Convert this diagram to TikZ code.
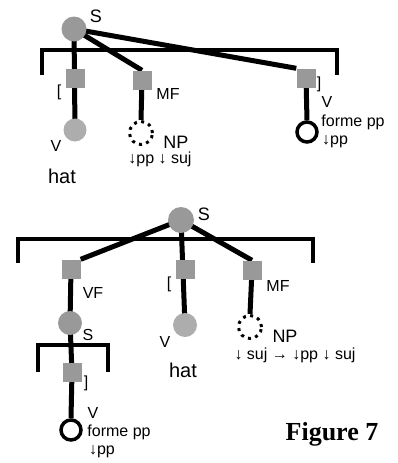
\documentclass[tikz,border=0pt]{standalone}
\usepackage{fontspec}
\setmainfont{Liberation Sans}
\newfontfamily\figfont{Liberation Serif}
\usetikzlibrary{backgrounds}
\definecolor{nodegray}{gray}{0.6}
\definecolor{vgray}{gray}{0.68}

\begin{document}
\begin{tikzpicture}[x=1pt,y=-1pt,
  sq/.style={fill=nodegray,minimum size=19pt,inner sep=0pt},
  snode/.style={circle,fill=nodegray,minimum size=25pt,inner sep=0pt},
  vnode/.style={circle,fill=vgray,minimum size=23pt,inner sep=0pt},
  foot/.style={circle,draw,fill=white,line width=3.5pt,minimum size=20pt,inner sep=0pt},
  subst/.style={circle,draw,line width=3pt,dash pattern=on 3pt off 4.4pt,minimum size=23pt,inner sep=0pt},
  edge/.style={line width=5pt},
  brack/.style={line width=3.5pt},
  lbl/.style={font=\fontsize{16}{18}\selectfont,inner sep=0pt,anchor=base},
  big/.style={font=\fontsize{18}{20}\selectfont,inner sep=0pt,anchor=base}]
\useasboundingbox (0,0) rectangle (398,463);

% upper tree
\node[snode] (s1) at (74,29) {};
\node[sq] (lsq1) at (75,78) {};
\node[vnode] (v1) at (75,130) {};
\node[sq] (mf1) at (142,80) {};
\node[subst] (np1) at (141,133) {};
\node[sq] (rsq1) at (306,78) {};
\node[foot] (foot1) at (307,132) {};
\begin{scope}[on background layer]
\draw[brack] (42,75) -- (42,50) -- (337,50) -- (337,75);
\draw[edge] (s1.center) -- (v1.center);
\draw[edge] (s1.center) -- (mf1.north);
\draw[edge] (mf1.center) -- (np1.north);
\draw[edge] (s1.center) -- (rsq1.north west);
\draw[edge] (rsq1.center) -- (foot1.north);
\end{scope}
\node[big] (s1lab) at (96,23) {S};
\node[lbl,anchor=center] (open1) at (59,92) {[};
\node[lbl] (mf1lab) at (168,99) {MF};
\node[lbl] (v1lab) at (56,151) {V};
\node[lbl,font=\fontsize{20}{22}\selectfont] (hat1) at (62,183) {hat};
\node[big] (np1lab) at (176,148) {NP};
\node[lbl] (np1feat) at (160,163) {↓pp ↓ suj};
\node[lbl,anchor=center] (close1) at (319,84) {]};
\node[lbl] (foot1cat) at (327,107) {V};
\node[lbl] (foot1forme) at (353,126) {forme pp};
\node[lbl] (foot1pp) at (335,144) {↓pp};

% lower tree
\node[snode,minimum size=26pt] (s2) at (181,220) {};
\node[sq] (vf) at (71,269) {};
\node[sq] (lsq2) at (185,269) {};
\node[sq] (mf2) at (252,270) {};
\node[snode,minimum size=24pt] (s3) at (70,323) {};
\node[sq] (rsq2) at (72,372) {};
\node[foot] (foot2) at (71,430) {};
\node[vnode,minimum size=24pt] (v2) at (185,325) {};
\node[subst] (np2) at (250,327) {};
\begin{scope}[on background layer]
\draw[brack] (18,263) -- (18,239) -- (313,239) -- (313,263);
\draw[brack] (38,372) -- (38,345) -- (108,345) -- (108,372);
\draw[edge] (s2.center) -- (vf.north east);
\draw[edge] (s2.center) -- (v2.center);
\draw[edge] (s2.center) -- (mf2.north);
\draw[edge] (mf2.center) -- (np2.north);
\draw[edge] (vf.center) -- (s3.center) -- (rsq2.center) -- (foot2.north);
\end{scope}
\node[big] (s2lab) at (204,220) {S};
\node[lbl] (vflab) at (93,298) {VF};
\node[lbl] (s3lab) at (88,340) {S};
\node[lbl,anchor=center] (close2) at (86,383) {]};
\node[lbl] (foot2cat) at (93,418) {V};
\node[lbl] (foot2forme) at (119,436) {forme pp};
\node[lbl] (foot2pp) at (102,454) {↓pp};
\node[lbl,anchor=center] (open2) at (169,284) {[};
\node[lbl] (v2lab) at (165,347) {V};
\node[lbl,font=\fontsize{20}{22}\selectfont] (hat2) at (183,377) {hat};
\node[lbl] (mf2lab) at (278,291) {MF};
\node[big] (np2lab) at (285,342) {NP};
\node[lbl] (np2feat) at (295,359) {↓ suj → ↓pp ↓ suj};
\node[inner sep=0pt,anchor=base,font=\figfont\bfseries\fontsize{26}{28}\selectfont] (caption) at (332,440) {Figure 7};
\end{tikzpicture}
\end{document}
